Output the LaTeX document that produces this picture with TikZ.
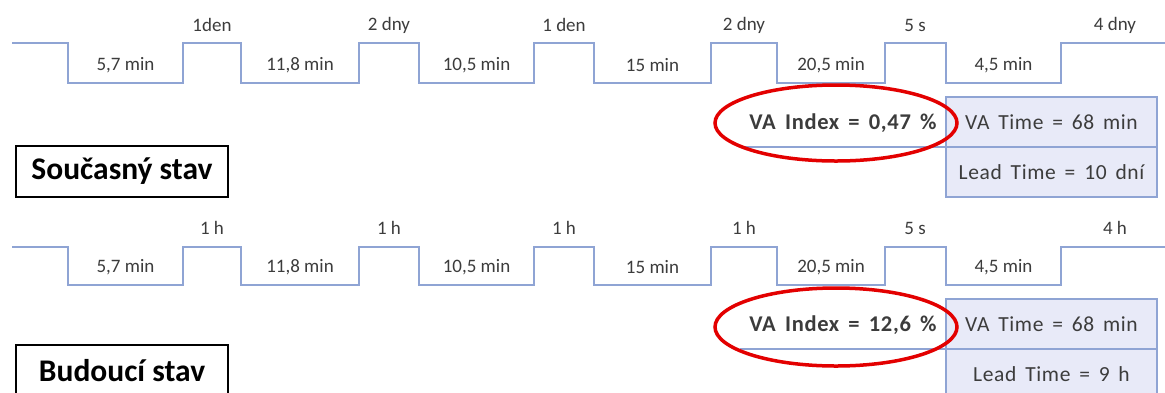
\documentclass[tikz,border=0pt]{standalone}
\usepackage{fontspec}
\setmainfont{Carlito}
% roztazene pismo pro souhrnne boxy
\newfontfamily\sumfont[LetterSpace=3, WordSpace=1.6]{Carlito}

\definecolor{vsmline}{HTML}{8FA4D4}
\definecolor{vsmfill}{HTML}{E8EAF8}
\definecolor{vsmtext}{HTML}{3C3C3C}
\definecolor{ringred}{HTML}{E30000}

\tikzset{
  timeline/.style={draw=vsmline, line width=1.5pt},
  steplabel/.style={text=vsmtext, inner sep=0pt, font=\fontsize{19}{22}\selectfont},
  sumbox/.style={draw=vsmline, fill=vsmfill, line width=1.5pt, inner sep=0pt, outer sep=0pt,
    minimum width=211pt, minimum height=50pt, text=vsmtext,
    font=\sumfont\fontsize{21.5}{25}\selectfont},
  vaindex/.style={text=vsmtext, inner sep=0pt, font=\sumfont\fontsize{22.5}{26}\selectfont\bfseries},
  ring/.style={draw=ringred, line width=3.5pt},
  statebox/.style={draw=black, line width=1.3pt, inner sep=0pt, outer sep=0pt,
    minimum width=212pt, minimum height=51pt, font=\fontsize{31.5}{36}\selectfont\bfseries}
}

\begin{document}
\begin{tikzpicture}[x=1pt, y=-1pt]
  \useasboundingbox[fill=white] (0,0) rectangle (1165,392);

  % ===== Soucasny stav =====
  % casova osa: dole procesni casy, nahore cekani
  \draw[timeline] (12,43)
    foreach \d/\r in {68/183, 241/359, 419/534, 594/711, 777/885, 946/1061} {
      -- (\d,43) |- (\r,83) -- (\r,43)
    } -- (1165,43);

  \foreach \x/\t [count=\i] in {125.5/{5,7 min}, 300/{11,8 min}, 476.5/{10,5 min},
                                652.5/15 min, 831/{20,5 min}, 1003.5/{4,5 min}}
    \node[steplabel] (curproc\i) at (\x,65) {\t};
  \foreach \x/\t [count=\i] in {212/1den, 389/2 dny, 564/1 den, 744/2 dny, 915/5 s, 1115/4 dny}
    \node[steplabel] (curwait\i) at (\x,25) {\t};

  % souhrn vpravo
  \node[sumbox, anchor=north west] (curva) at (946,97) {VA Time = 68 min};
  \node[sumbox, anchor=north] (curlead) at (curva.south) {Lead Time = 10 dní};
  \node[vaindex] (curidx) at (843,123) {VA Index = 0,47 \%};
  \coordinate (curline) at (740,147);
  \draw[timeline] (curline) -- (curva.south west);
  \draw[ring] (836,123) ellipse [x radius=121pt, y radius=38pt];

  \node[statebox, anchor=north west] (curstate) at (16,146) {Současný stav};

  % ===== Budouci stav =====
  \draw[timeline] (12,247)
    foreach \d/\r in {68/183, 241/359, 419/534, 594/711, 777/885, 946/1061} {
      -- (\d,247) |- (\r,285) -- (\r,247)
    } -- (1165,247);

  \foreach \x/\t [count=\i] in {125.5/{5,7 min}, 300/{11,8 min}, 476.5/{10,5 min},
                                652.5/15 min, 831/{20,5 min}, 1003.5/{4,5 min}}
    \node[steplabel] (futproc\i) at (\x,267) {\t};
  \foreach \x/\t [count=\i] in {212/1 h, 389/1 h, 564/1 h, 744/1 h, 915/5 s, 1115/4 h}
    \node[steplabel] (futwait\i) at (\x,228) {\t};

  \node[sumbox, anchor=north west] (futva) at (946,299) {VA Time = 68 min};
  \node[sumbox, anchor=north] (futlead) at (futva.south) {Lead Time = 9 h};
  \node[vaindex] (futidx) at (843,325) {VA Index = 12,6 \%};
  \coordinate (futline) at (740,349);
  \draw[timeline] (futline) -- (futva.south west);
  \draw[ring] (836,327) ellipse [x radius=121pt, y radius=39pt];

  \node[statebox, anchor=north west] (futstate) at (16,345) {Budoucí stav};
\end{tikzpicture}
\end{document}
